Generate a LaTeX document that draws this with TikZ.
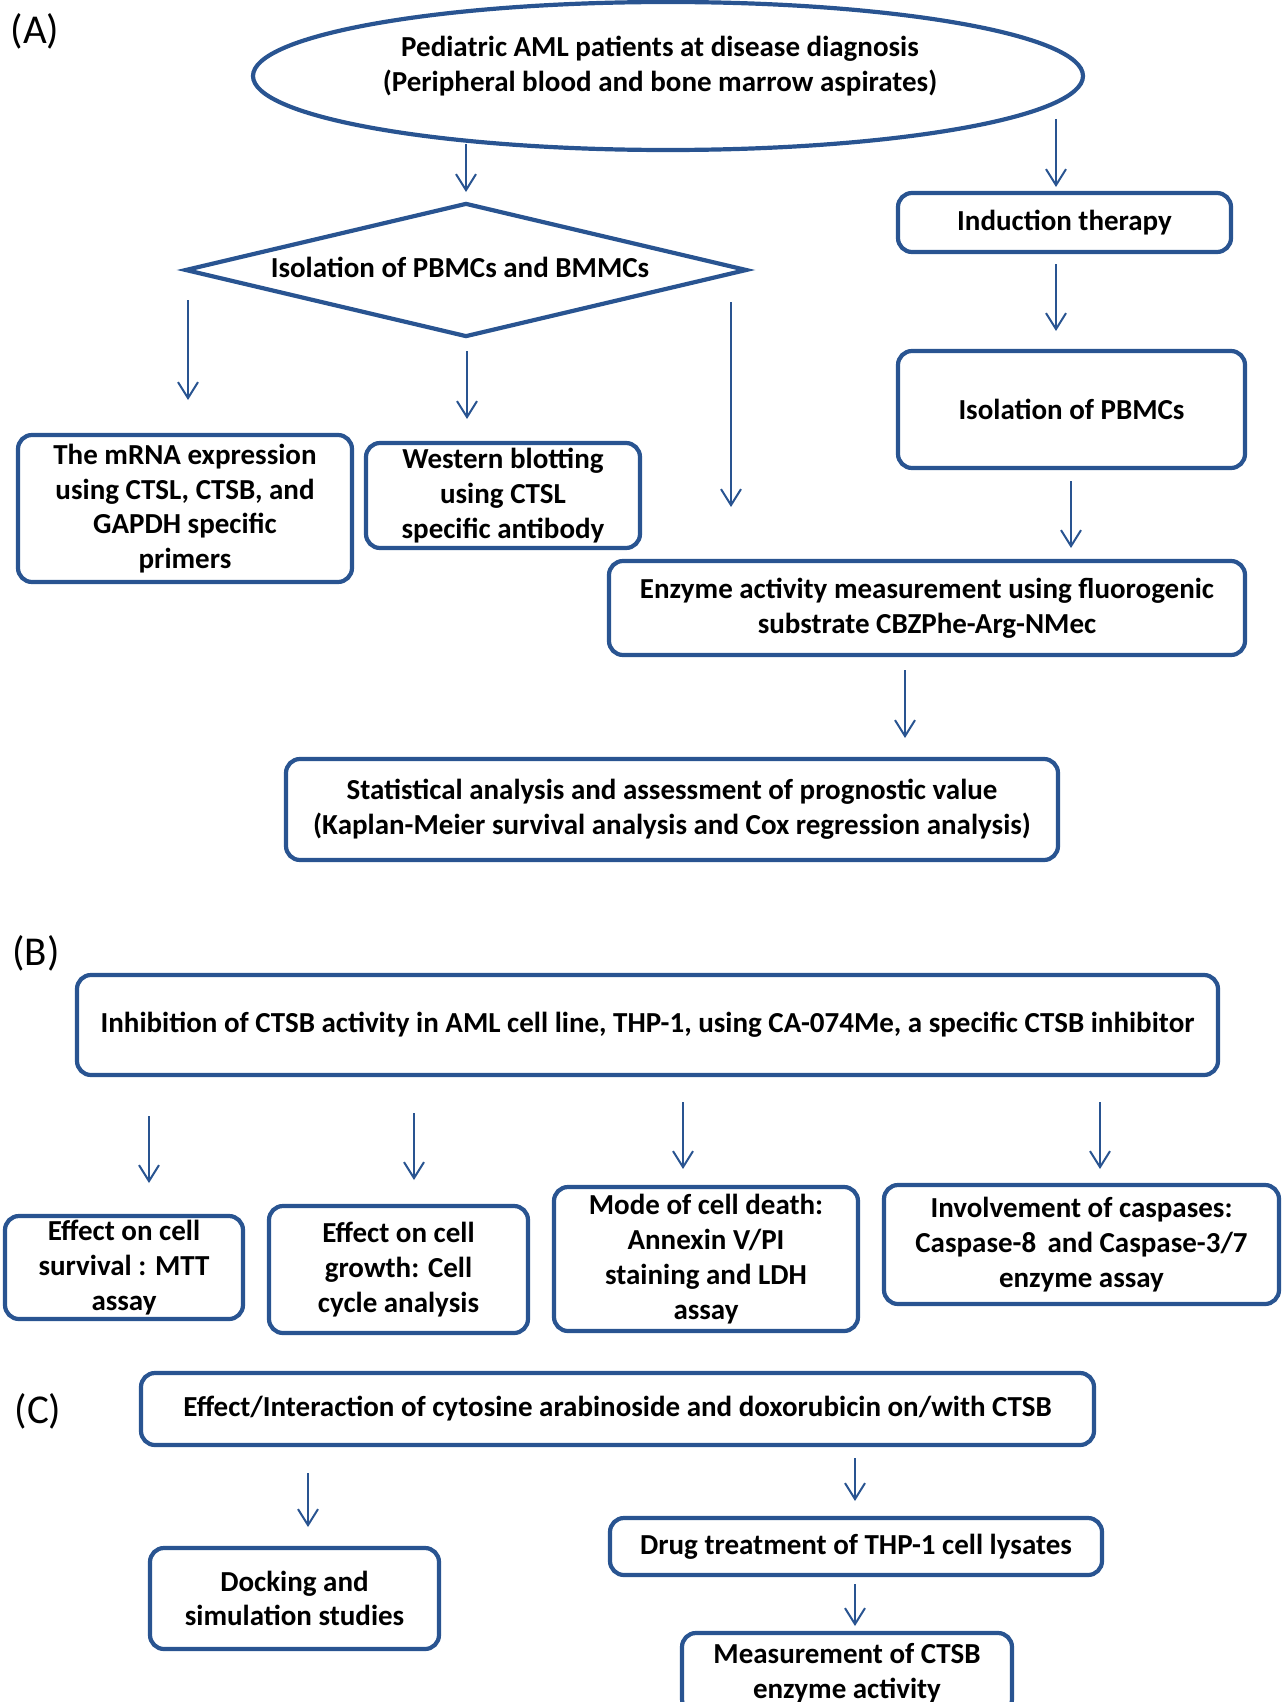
\documentclass[tikz,border=0pt]{standalone}
\usepackage{fontspec}
\setmainfont{Carlito}
\usetikzlibrary{shapes.geometric,arrows.meta}
\definecolor{fb}{RGB}{41,84,145}
\tikzset{
 txt/.style={align=center, inner sep=0pt, font=\bfseries\fontsize{14.5}{17.4}\selectfont},
 box/.style={txt, draw=fb, line width=2.1pt, rounded corners=7pt},
 arr/.style={draw=fb, line width=1pt, -{Straight Barb[length=8pt,width=10pt,line width=1pt]}},
 lab/.style={font=\fontsize{20.5}{23}\selectfont, inner sep=0pt}
}
\begin{document}
\begin{tikzpicture}[x=0.5pt,y=-0.5pt]
\useasboundingbox (0,0) rectangle (1281,1702);
\clip (0,0) rectangle (1281,1702);
% ---------- (A)
\node[lab] (labA) at (35,31) {(A)};
\node[draw=fb, line width=2.1pt, ellipse, minimum width=415pt, minimum height=74pt, inner sep=0pt] (pat) at (668,76) {};
\node[txt] (pattxt) at (660,66) {Pediatric AML patients at disease diagnosis\\(Peripheral blood and bone marrow aspirates)};
\node[txt, draw=fb, line width=2.1pt, diamond, minimum width=281pt, minimum height=67pt] (iso) at (466,270) {};
\node[txt] (isotxt) at (460,267) {Isolation of PBMCs and BMMCs};
\node[box, minimum width=166.5pt, minimum height=29.5pt] (ind) at (1064.5,222.5) {Induction therapy};
\node[box, minimum width=173.5pt, minimum height=58.5pt] (isoP) at (1071.5,409.5) {Isolation of PBMCs};
\node[box, minimum width=318pt, minimum height=47pt] (enz) at (927,608) {Enzyme activity measurement using fluorogenic\\substrate CBZPhe-Arg-NMec};
\node[box, minimum width=167pt, minimum height=73.5pt] (mrna) at (185,508.5) {The mRNA expression\\using CTSL, CTSB, and\\GAPDH specific\\primers};
\node[box, minimum width=137pt, minimum height=52.5pt] (west) at (503,495.5) {Western blotting\\using CTSL\\specific antibody};
\node[box, minimum width=386pt, minimum height=50.5pt] (stat) at (672,809.5) {Statistical analysis and assessment of prognostic value\\(Kaplan-Meier survival analysis and Cox regression analysis)};
\coordinate (a1s) at (466,144); \coordinate (a1e) at (466,192);
\coordinate (a2s) at (1056,119); \coordinate (a2e) at (1056,187);
\coordinate (a3s) at (1056,264); \coordinate (a3e) at (1056,331);
\coordinate (a4s) at (1071,481); \coordinate (a4e) at (1071,548);
\coordinate (a5s) at (731,302); \coordinate (a5e) at (731,507);
\coordinate (a6s) at (188,300); \coordinate (a6e) at (188,400);
\coordinate (a7s) at (467,351); \coordinate (a7e) at (467,419);
\coordinate (a8s) at (905,670); \coordinate (a8e) at (905,738);
\foreach \i in {1,...,8} {\draw[arr] (a\i s) -- (a\i e);}
% ---------- (B)
\node[lab] (labB) at (36,953) {(B)};
\node[box, minimum width=570.5pt, minimum height=50pt] (inh) at (647.5,1025) {Inhibition of CTSB activity in AML cell line, THP-1, using CA-074Me, a specific CTSB inhibitor};
\node[box, minimum width=119pt, minimum height=51.5pt] (mtt) at (124,1267.5) {Effect on cell\\survival : MTT\\assay};
\node[box, minimum width=129.5pt, minimum height=63.5pt] (grow) at (398.5,1269.5) {Effect on cell\\growth: Cell\\cycle analysis};
\node[box, minimum width=152pt, minimum height=72pt] (mode) at (706,1259) {Mode of cell death:\\Annexin V/PI\\staining and LDH\\assay};
\node[box, minimum width=197.5pt, minimum height=59.5pt] (casp) at (1081.5,1244.5) {Involvement of caspases:\\Caspase-8\, and Caspase-3/7\\enzyme assay};
\coordinate (b1s) at (149,1116); \coordinate (b1e) at (149,1183);
\coordinate (b2s) at (414,1113); \coordinate (b2e) at (414,1180);
\coordinate (b3s) at (683,1102); \coordinate (b3e) at (683,1169);
\coordinate (b4s) at (1100,1102); \coordinate (b4e) at (1100,1169);
\foreach \i in {1,...,4} {\draw[arr] (b\i s) -- (b\i e);}
% ---------- (C)
\node[lab] (labC) at (38,1411) {(C)};
\node[box, minimum width=476.5pt, minimum height=36pt] (eff) at (617.5,1409) {Effect/Interaction of cytosine arabinoside and doxorubicin on/with CTSB};
\node[box, minimum width=144.5pt, minimum height=50.5pt] (dock) at (294.5,1598.5) {Docking and\\simulation studies};
\node[box, minimum width=246pt, minimum height=28.5pt] (drug) at (856,1546.5) {Drug treatment of THP-1 cell lysates};
\node[box, minimum width=165pt, minimum height=40pt] (meas) at (847,1673) {Measurement of CTSB\\enzyme activity};
\coordinate (c1s) at (308,1473); \coordinate (c1e) at (308,1527);
\coordinate (c2s) at (855,1458); \coordinate (c2e) at (855,1501);
\coordinate (c3s) at (855,1584); \coordinate (c3e) at (855,1626);
\foreach \i in {1,...,3} {\draw[arr] (c\i s) -- (c\i e);}
\end{tikzpicture}
\end{document}
